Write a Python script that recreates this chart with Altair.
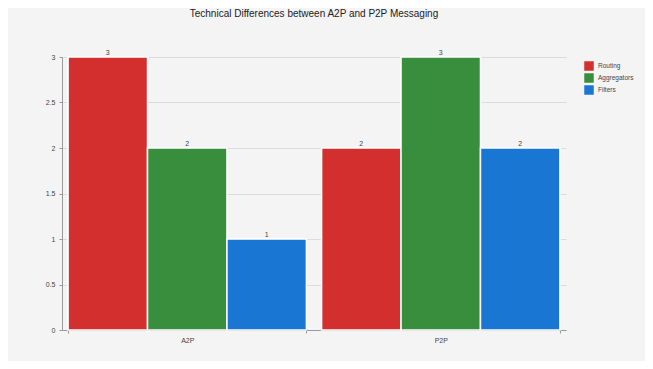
import altair as alt
import pandas as pd

groups = ["A2P", "P2P"]
series = ["Routing", "Aggregators", "Filters"]
a2p_values = [3, 2, 1]
p2p_values = [2, 3, 2]
colors = ["#d32f2f", "#388e3c", "#1976d2"]

rows = []
for s, v in zip(series, a2p_values):
    rows.append({"group": "A2P", "series": s, "value": v})
for s, v in zip(series, p2p_values):
    rows.append({"group": "P2P", "series": s, "value": v})
df = pd.DataFrame(rows)

font = "Liberation Sans"

base = alt.Chart(df).encode(
    x=alt.X("group:N", sort=groups, title=None,
            scale=alt.Scale(paddingInner=0.06, paddingOuter=0.024),
            axis=alt.Axis(labelAngle=0, labelFontSize=7, labelColor="#444",
                          labelFont=font, tickBand="extent", domainColor="#999",
                          tickColor="#999", tickSize=3, labelPadding=3)),
    xOffset=alt.XOffset("series:N", sort=series,
                        scale=alt.Scale(paddingInner=0, paddingOuter=0)),
)

bars = base.mark_bar(stroke="white", strokeWidth=1.5).encode(
    y=alt.Y("value:Q", title=None,
            scale=alt.Scale(domain=[0, 3], nice=False),
            axis=alt.Axis(values=[0, 0.5, 1, 1.5, 2, 2.5, 3], format="~g",
                          labelFontSize=7,
                          labelColor="#444", labelFont=font, gridColor="#dcdcdc",
                          domainColor="#999", tickColor="#999", tickSize=3,
                          labelPadding=4)),
    color=alt.Color("series:N", sort=series,
                    scale=alt.Scale(domain=series, range=colors),
                    legend=alt.Legend(title=None, orient="none", legendX=522,
                                      legendY=4, symbolType="square",
                                      symbolSize=90, symbolStrokeWidth=0,
                                      labelFontSize=6.5, labelFont=font,
                                      labelColor="#444", rowPadding=2)),
)

labels = base.mark_text(dy=-4, fontSize=7, color="#444", font=font).encode(
    y=alt.Y("value:Q"),
    text=alt.Text("value:Q"),
)

chart = alt.layer(bars, labels).properties(
    width=504,
    height=273,
    background="#f4f4f4",
    padding={"left": 54, "top": 49, "right": 79, "bottom": 31},
    autosize=alt.AutoSizeParams(type="none"),
    title=alt.Title("Technical Differences between A2P and P2P Messaging",
                    fontSize=10, font=font, fontWeight="normal", color="#222",
                    offset=30, anchor="middle"),
).configure_view(stroke=None)

chart.save("out.html", embed_options={"renderer": "svg", "actions": False})
